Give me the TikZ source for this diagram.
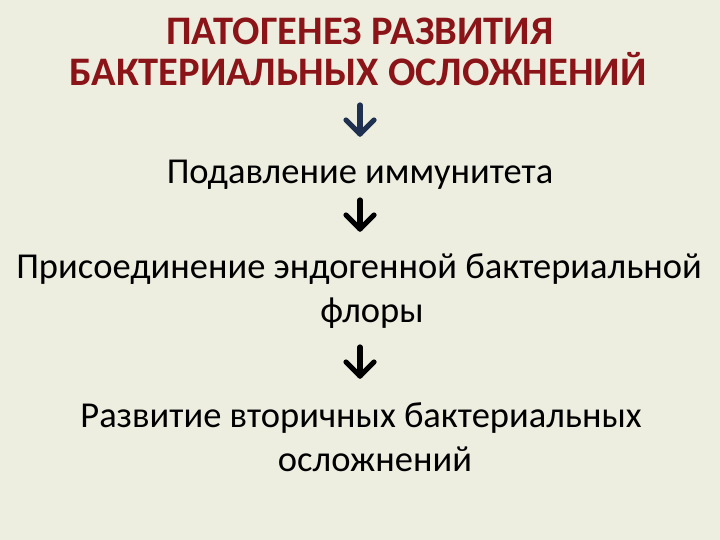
\documentclass[tikz,border=0pt]{standalone}
\usepackage{fontspec}
\setmainfont{Carlito}
\definecolor{bg}{HTML}{EDEEDF}
\definecolor{titlered}{HTML}{8B1418}
\definecolor{navy}{HTML}{1F3050}
\tikzset{
  titletext/.style={anchor=base, inner sep=0pt, text=titlered, font=\fontsize{40.5}{44}\selectfont\bfseries},
  bodytext/.style={anchor=base, inner sep=0pt, text=black, font=\fontsize{36.5}{44}\selectfont},
  arr/.style={line width=5.2pt, line cap=round, line join=round},
}
\begin{document}
\begin{tikzpicture}[x=1pt, y=-1pt]
\fill[bg] (0,0) rectangle (720,540);
\useasboundingbox (0,0) rectangle (720,540);
\node[titletext] (t1) at (360,45) {ПАТОГЕНЕЗ РАЗВИТИЯ};
\node[titletext] (t2) at (358,86) {БАКТЕРИАЛЬНЫХ ОСЛОЖНЕНИЙ};
\node[bodytext] (b1) at (360,184) {Подавление иммунитета};
\node[bodytext] (b2) at (359,278) {Присоединение эндогенной бактериальной};
\node[bodytext] (b3) at (372,322) {флоры};
\node[bodytext] (b4) at (361,427) {Развитие вторичных бактериальных};
\node[bodytext] (b5) at (375,471) {осложнений};
\coordinate (a1s) at (360,105);
\coordinate (a1e) at (360,134);
\coordinate (a2s) at (360,200);
\coordinate (a2e) at (360,229);
\coordinate (a3s) at (360,347);
\coordinate (a3e) at (360,376);
\draw[arr, navy] (a1s) -- (a1e);
\draw[arr, navy] ([shift={(-14,-14)}]a1e) -- (a1e) -- ([shift={(14,-14)}]a1e);
\draw[arr, black] (a2s) -- (a2e);
\draw[arr, black] ([shift={(-14,-14)}]a2e) -- (a2e) -- ([shift={(14,-14)}]a2e);
\draw[arr, black] (a3s) -- (a3e);
\draw[arr, black] ([shift={(-14,-14)}]a3e) -- (a3e) -- ([shift={(14,-14)}]a3e);
\end{tikzpicture}
\end{document}
